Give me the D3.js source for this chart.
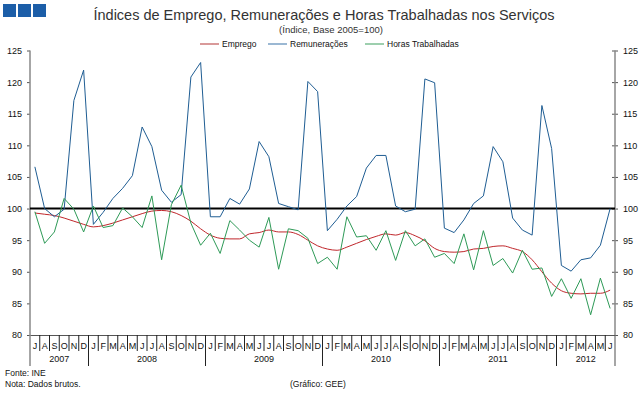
<!DOCTYPE html>
<html lang="pt">
<head>
<meta charset="utf-8">
<script src="https://cdn.jsdelivr.net/npm/d3@7"></script>
<style>
  body { margin: 0; background: #fff; }
  svg text { font-family: "Liberation Sans", Arial, sans-serif; fill: #111; }
</style>
</head>
<body>
<div id="chart"></div>
<script>
// months Jul 2007 .. Jun 2012
var months = ["J","A","S","O","N","D",
  "J","F","M","A","M","J","J","A","S","O","N","D",
  "J","F","M","A","M","J","J","A","S","O","N","D",
  "J","F","M","A","M","J","J","A","S","O","N","D",
  "J","F","M","A","M","J","J","A","S","O","N","D",
  "J","F","M","A","M","J"];
var years = ["2007","2008","2009","2010","2011","2012"];
var yearMonths = [6, 12, 12, 12, 12, 6];

var emprego = [99.3, 99.1, 98.9, 98.5, 98.0, 97.5, 97.1, 97.3, 97.7, 98.2, 98.7, 99.2,
  99.6, 99.7, 99.5, 98.9, 98.0, 96.8, 95.8, 95.3, 95.2, 95.2, 96.0, 96.2,
  96.6, 96.3, 96.3, 95.9, 95.0, 94.1, 93.6, 93.4, 93.9, 94.5, 95.1, 95.6,
  96.0, 95.8, 96.2, 95.7, 94.9, 93.7, 93.2, 93.1, 93.2, 93.6, 93.7, 94.0,
  94.1, 93.7, 93.2, 91.9, 90.0, 88.2, 87.0, 86.6, 86.5, 86.6, 86.6, 87.1];

var remuneracoes = [106.6, 100.0, 98.7, 99.9, 117.1, 121.9, 97.5, 99.4, 101.6, 103.2, 105.2, 112.9,
  109.8, 102.9, 101.0, 102.2, 120.8, 123.1, 98.7, 98.7, 101.6, 100.7, 103.1, 110.6,
  108.2, 100.8, 100.3, 99.8, 120.1, 118.5, 96.5, 98.3, 100.4, 101.9, 106.4, 108.4,
  108.4, 100.4, 99.5, 99.9, 120.5, 119.9, 96.9, 96.2, 98.2, 100.8, 102.0, 109.8,
  107.4, 98.5, 96.6, 95.8, 116.3, 109.5, 91.0, 90.1, 91.9, 92.2, 94.2, 100.0];

var horas = [99.5, 94.5, 96.3, 101.6, 99.9, 96.3, 100.4, 97.0, 97.3, 100.1, 98.7, 97.0,
  102.0, 91.9, 100.6, 103.7, 97.7, 94.2, 96.1, 92.9, 98.1, 96.6, 95.0, 93.9,
  98.6, 90.4, 96.8, 96.5, 95.3, 91.3, 92.3, 90.4, 98.7, 95.5, 95.7, 93.4,
  96.5, 91.8, 96.5, 94.1, 95.2, 92.3, 92.9, 91.3, 96.0, 90.3, 96.5, 91.0,
  92.1, 89.8, 93.4, 90.4, 90.6, 86.1, 88.9, 85.8, 88.9, 83.2, 89.0, 84.2];

var yTicks = [80, 85, 90, 95, 100, 105, 110, 115, 120, 125];

var series = [
  { name: "Emprego", values: emprego, color: "#c0262b", legend: "#d99a9a", curve: d3.curveMonotoneX },
  { name: "Remunerações", values: remuneracoes, color: "#1f5d93", legend: "#9bb8d3", curve: d3.curveLinear },
  { name: "Horas Trabalhadas", values: horas, color: "#2e9a57", legend: "#9dcfae", curve: d3.curveLinear }
];

var W = 643, H = 393;
var plotL = 30, plotR = 615, plotT = 50.5, plotB = 335;

var svg = d3.select("#chart").append("svg")
  .attr("width", W).attr("height", H);

// logo squares
[3, 18, 33].forEach(function (x0) {
  svg.append("rect").attr("x", x0).attr("y", 4).attr("width", 13).attr("height", 13)
    .attr("fill", "#1c5ea8");
});

svg.append("text").attr("x", 324).attr("y", 20).attr("text-anchor", "middle")
  .style("font-size", "14.5px").style("fill", "#333")
  .text("Índices de Emprego, Remunerações e Horas Trabalhadas nos Serviços");
svg.append("text").attr("x", 331).attr("y", 33).attr("text-anchor", "middle")
  .style("font-size", "9.5px").style("fill", "#333").text("(Índice, Base 2005=100)");

var x = d3.scaleBand().domain(d3.range(months.length)).range([plotL, plotR]).padding(0);
var y = d3.scaleLinear().domain([80, 125]).range([plotB, plotT]);
var cx = function (i) { return x(i) + x.bandwidth() / 2; };

// legend
var legendX = [200, 268, 365];
series.forEach(function (s, k) {
  var g = svg.append("g").attr("transform", "translate(" + legendX[k] + ",44)");
  g.append("line").attr("x1", 0).attr("x2", 19).attr("y1", 0).attr("y2", 0)
    .attr("stroke", s.legend).attr("stroke-width", 2);
  g.append("text").attr("x", 22).attr("y", 3).style("font-size", "8.5px").text(s.name);
});

// y axes
var yl = svg.append("g").attr("transform", "translate(" + plotL + ",0)")
  .call(d3.axisLeft(y).tickValues(yTicks).tickSize(3).tickSizeOuter(0));
var yr = svg.append("g").attr("transform", "translate(" + plotR + ",0)")
  .call(d3.axisRight(y).tickValues(yTicks).tickSize(3).tickSizeOuter(0));
[yl, yr].forEach(function (g) {
  g.select(".domain").remove();
  g.selectAll(".tick line").attr("stroke", "#555");
  g.selectAll("text").style("font-size", "9px").attr("fill", "#111");
});
yl.selectAll(".tick text").attr("x", -8);
yr.selectAll(".tick text").attr("x", 8);
yr.selectAll(".tick line").attr("x1", -3).attr("x2", 3);

// vertical axis lines extend below into category area
[plotL, plotR].forEach(function (xx) {
  svg.append("line").attr("x1", xx).attr("x2", xx).attr("y1", plotT).attr("y2", 366)
    .attr("stroke", "#888").attr("stroke-width", 1.5);
});

// x axis
var xa = svg.append("g").attr("transform", "translate(0," + plotB + ")")
  .call(d3.axisBottom(x).tickSize(0).tickSizeOuter(0).tickFormat(function (i) { return months[i]; }));
xa.select(".domain").attr("stroke", "#555");
xa.selectAll("text").style("font-size", "9px").attr("fill", "#111").attr("dy", "0.71em").attr("y", 8);

// month separators and year separators
var cum = 0, yearStart = [];
yearMonths.forEach(function (n) { yearStart.push(cum); cum += n; });
d3.range(1, months.length).forEach(function (i) {
  var isYear = yearStart.indexOf(i) >= 0;
  svg.append("line").attr("x1", x(i)).attr("x2", x(i))
    .attr("y1", plotB).attr("y2", isYear ? 366 : 351)
    .attr("stroke", "#222").attr("stroke-width", 1);
});
years.forEach(function (yr_, k) {
  var i0 = yearStart[k], i1 = i0 + yearMonths[k];
  svg.append("text").attr("x", (x(i0) + x(i1 - 1) + x.bandwidth()) / 2).attr("y", 362)
    .attr("text-anchor", "middle").style("font-size", "9px").text(yr_);
});

// base line at 100
svg.append("line").attr("x1", plotL).attr("x2", plotR).attr("y1", y(100)).attr("y2", y(100))
  .attr("stroke", "#000").attr("stroke-width", 2);

series.forEach(function (s) {
  var line = d3.line().x(function (d, i) { return cx(i); }).y(function (d) { return y(d); }).curve(s.curve);
  svg.append("path").datum(s.values).attr("d", line)
    .attr("fill", "none").attr("stroke", s.color).attr("stroke-width", 1);
});

// footer
svg.append("text").attr("x", 5).attr("y", 376).style("font-size", "8.5px").text("Fonte: INE");
svg.append("text").attr("x", 5).attr("y", 387).style("font-size", "8.5px").text("Nota: Dados brutos.");
svg.append("text").attr("x", 290).attr("y", 387).style("font-size", "8.5px").text("(Gráfico: GEE)");
</script>
</body>
</html>
